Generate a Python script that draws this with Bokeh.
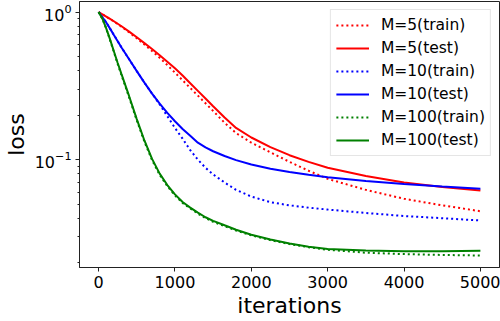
from bokeh.plotting import figure
from bokeh.models import Range1d, FixedTicker
from bokeh.embed import file_html
from bokeh.resources import INLINE

iterations = [0, 50, 100, 150, 200, 250, 300, 400, 500, 600, 700, 800, 900, 1000,
              1100, 1200, 1300, 1400, 1500, 1650, 1800, 2000, 2250, 2500, 2750, 3000,
              3500, 4000, 4500, 5000]

m5_train = [1.0, 0.9638, 0.9311, 0.8974, 0.8630, 0.8299, 0.7962, 0.7295, 0.6653, 0.6026, 0.5445,
            0.4898, 0.4375, 0.3890, 0.3451, 0.3062, 0.2716, 0.2410, 0.2138, 0.1778, 0.1514,
            0.1303, 0.1122, 0.0966, 0.0841, 0.0741, 0.0624, 0.0543, 0.0490, 0.0447]
m5_test = [1.0, 0.9661, 0.9333, 0.8995, 0.8670, 0.8337, 0.8017, 0.7379, 0.6761, 0.6166, 0.5623,
           0.5105, 0.4613, 0.4169, 0.3715, 0.3296, 0.2924, 0.2594, 0.2301, 0.1928, 0.1641,
           0.1413, 0.1216, 0.1072, 0.0966, 0.0881, 0.0776, 0.0700, 0.0653, 0.0617]
m10_train = [1.0, 0.9226, 0.8511, 0.7727, 0.6998, 0.6353, 0.5754, 0.4786, 0.3981, 0.3327, 0.2805,
             0.2371, 0.1972, 0.1641, 0.1387, 0.1161, 0.1000, 0.0881, 0.0794, 0.0700, 0.0624,
             0.0562, 0.0515, 0.0490, 0.0473, 0.0459, 0.0435, 0.0415, 0.0401, 0.0387]
m10_test = [1.0, 0.9226, 0.8511, 0.7727, 0.6998, 0.6353, 0.5754, 0.4786, 0.3981, 0.3327, 0.2805,
            0.2399, 0.2075, 0.1820, 0.1614, 0.1452, 0.1303, 0.1211, 0.1140, 0.1059, 0.0993,
            0.0927, 0.0867, 0.0826, 0.0789, 0.0759, 0.0716, 0.0684, 0.0658, 0.0635]
m100_train = [1.0, 0.8995, 0.7727, 0.6457, 0.5370, 0.4446, 0.3733, 0.2642, 0.1849, 0.1324, 0.0993,
              0.0789, 0.0661, 0.0573, 0.0509, 0.0467, 0.0431, 0.0402, 0.0379, 0.0354, 0.0331,
              0.0307, 0.0285, 0.0268, 0.0255, 0.0245, 0.0234, 0.0229, 0.0226, 0.0224]
m100_test = [1.0, 0.9016, 0.7762, 0.6531, 0.5433, 0.4519, 0.3802, 0.2692, 0.1884, 0.1349, 0.1012,
             0.0804, 0.0673, 0.0582, 0.0516, 0.0473, 0.0437, 0.0407, 0.0385, 0.0359, 0.0335,
             0.0310, 0.0288, 0.0270, 0.0257, 0.0248, 0.0242, 0.0239, 0.0239, 0.0241]

x_ticks = [0, 1000, 2000, 3000, 4000, 5000]
y_ticks = [0.1, 1.0]
y_minor = [0.02, 0.03, 0.04, 0.05, 0.06, 0.07, 0.08, 0.09, 0.2, 0.3, 0.4, 0.5, 0.6, 0.7, 0.8, 0.9]

FONT = "DejaVu Sans"

p = figure(width=500, height=321, y_axis_type="log", output_backend="svg",
           toolbar_location=None,
           x_range=Range1d(-250, 5250), y_range=Range1d(0.01858, 1.18),
           min_border_left=79, min_border_right=1, min_border_top=1, min_border_bottom=54)

p.grid.visible = False
p.background_fill_color = "white"
p.border_fill_color = "white"
p.outline_line_color = "#222222"
p.outline_line_width = 1

series = [
    (m5_train, "red", "dotted", "M=5(train)"),
    (m5_test, "red", "solid", "M=5(test)"),
    (m10_train, "blue", "dotted", "M=10(train)"),
    (m10_test, "blue", "solid", "M=10(test)"),
    (m100_train, "green", "dotted", "M=100(train)"),
    (m100_test, "green", "solid", "M=100(test)"),
]
colors = {"red": "#ff0000", "blue": "#0000ff", "green": "#008000"}
for vals, c, style, label in series:
    dash = "2 3" if style == "dotted" else "solid"
    p.line(iterations, vals, line_color=colors[c], line_width=2, line_dash=dash,
           legend_label=label)

p.xaxis.ticker = FixedTicker(ticks=x_ticks)
p.yaxis.ticker = FixedTicker(ticks=y_ticks, minor_ticks=y_minor)

for ax in (p.xaxis[0], p.yaxis[0]):
    ax.axis_line_color = "#222222"
    ax.major_tick_line_color = "#222222"
    ax.minor_tick_line_color = "#222222"
    ax.major_tick_in = 0
    ax.major_tick_out = 4
    ax.minor_tick_in = 0
    ax.minor_tick_out = 2
    ax.major_label_text_font = FONT
    ax.major_label_text_font_size = "16px"
    ax.major_label_text_color = "black"
    ax.axis_label_text_font = FONT
    ax.axis_label_text_font_size = "22px"
    ax.axis_label_text_font_style = "normal"
    ax.axis_label_text_color = "black"

p.xaxis.axis_label = "iterations"
p.yaxis.axis_label = "loss"
p.xaxis.minor_tick_out = 0
p.xaxis.major_label_standoff = 4
p.xaxis.axis_label_standoff = 2
p.yaxis.major_label_standoff = 4
p.yaxis.axis_label_standoff = 3

lg = p.legend[0]
lg.location = "top_right"
lg.margin = 8
lg.padding = 5
lg.spacing = 3
lg.label_height = 20
lg.glyph_height = 20
lg.glyph_width = 33
lg.label_standoff = 12
lg.label_text_font = FONT
lg.label_text_font_size = "15.5px"
lg.label_text_color = "black"
lg.border_line_color = "#cccccc"
lg.border_line_width = 1
lg.background_fill_alpha = 0.8

open("out.html", "w").write(file_html(p, INLINE))
